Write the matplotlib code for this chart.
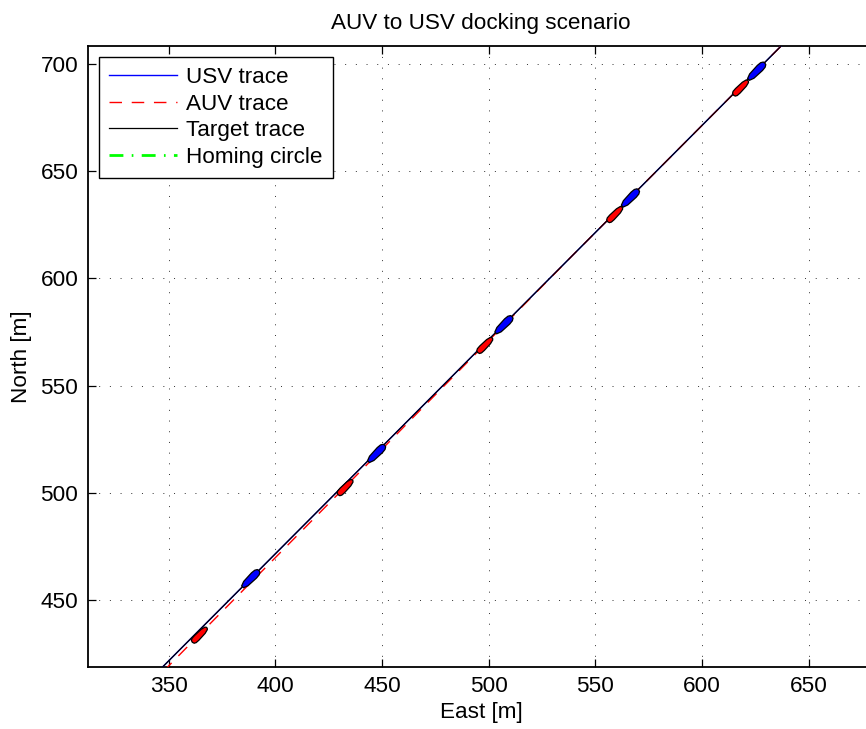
import numpy as np
import matplotlib.pyplot as plt
from matplotlib.patches import Polygon

plt.rcParams['font.family'] = ['Liberation Sans', 'DejaVu Sans']
FS = 16.2

# ---- traces (East / North, metres) ----
target_east = [340.0, 640.0]
target_north = [411.4, 711.4]
usv_east = [340.0, 640.0]
usv_north = [411.4, 711.4]
auv_east = [340.0, 365.0, 400.0, 433.0, 470.0, 500.0, 540.0, 640.0]
auv_north = [408.9, 434.3, 469.6, 502.9, 540.6, 570.9, 611.4, 711.4]

# ---- vessel snapshots along the run ----
usv_snap_east = [388.5, 447.5, 507.2, 566.5, 625.7]
usv_snap_north = [459.8, 518.3, 578.4, 637.6, 696.8]
auv_snap_east = [364.5, 432.8, 498.3, 559.2, 618.2]
auv_snap_north = [433.5, 502.4, 568.8, 629.9, 689.0]

x_ticks = [350, 400, 450, 500, 550, 600, 650]
y_ticks = [450, 500, 550, 600, 650, 700]

# hull outlines, unit length along x, unit beam along y
USV_HULL = np.array([[-0.50, -0.18], [-0.50, 0.18], [-0.30, 0.42], [0.20, 0.50],
                     [0.38, 0.44], [0.48, 0.25], [0.50, 0.0], [0.48, -0.25],
                     [0.38, -0.44], [0.20, -0.50], [-0.30, -0.42]])
AUV_HULL = np.array([[-0.50, 0.0], [-0.47, 0.30], [-0.38, 0.46], [-0.20, 0.50],
                     [0.25, 0.44], [0.45, 0.28], [0.50, 0.10], [0.50, -0.10],
                     [0.45, -0.28], [0.25, -0.44], [-0.20, -0.50], [-0.38, -0.46],
                     [-0.47, -0.30]])


def draw_vessels(ax, east, north, hull, length, beam, color):
    east = np.asarray(east)
    north = np.asarray(north)
    # heading from consecutive snapshots
    hdg = np.arctan2(np.diff(north), np.diff(east))
    hdg = np.append(hdg, hdg[-1])
    for e, n, h in zip(east, north, hdg):
        pts = hull * [length, beam]
        rot = np.array([[np.cos(h), -np.sin(h)], [np.sin(h), np.cos(h)]])
        pts = pts @ rot.T + [e, n]
        ax.add_patch(Polygon(pts, closed=True, facecolor=color, edgecolor='black',
                             linewidth=0.9, zorder=5))


fig = plt.figure(figsize=(8.66, 7.29), dpi=100)
ax = fig.add_axes([88 / 866, 62.3 / 729, 786 / 866, 621 / 729])

ax.plot(usv_east, usv_north, color='blue', linewidth=1.0, label='USV trace', zorder=3)
ax.plot(auv_east, auv_north, color='red', linewidth=1.0, dashes=(9, 7),
        label='AUV trace', zorder=3)
ax.plot(target_east, target_north, color='black', linewidth=0.9,
        label='Target trace', zorder=4)
ax.plot([], [], color=(0, 1, 0), linewidth=2.0, dashes=(5, 3, 0.6, 3),
        label='Homing circle')

draw_vessels(ax, usv_snap_east, usv_snap_north, USV_HULL, 10.8, 3.4, 'blue')
draw_vessels(ax, auv_snap_east, auv_snap_north, AUV_HULL, 9.6, 3.0, 'red')

ax.set_xlim(312.2, 680.7)
ax.set_ylim(418.7, 708.7)
ax.set_xticks(x_ticks)
ax.set_yticks(y_ticks)
ax.tick_params(direction='in', length=6, width=0.9, top=True, right=True,
               labelsize=FS, pad=7)
ax.grid(True, color='#303030', linewidth=0.7, linestyle=(0, (1, 10)))
ax.set_axisbelow(True)
for s in ax.spines.values():
    s.set_linewidth(1.3)

ax.set_title('AUV to USV docking scenario', fontsize=FS, pad=12)
ax.set_xlabel('East [m]', fontsize=FS, labelpad=3)
ax.set_ylabel('North [m]', fontsize=FS, labelpad=6)

leg = ax.legend(loc='upper left', fontsize=FS, handlelength=3.0, handletextpad=0.4,
                labelspacing=0.25, borderpad=0.45, borderaxespad=0.5,
                fancybox=False, framealpha=1, edgecolor='black')
leg.get_frame().set_linewidth(1.0)

fig.savefig('out.png', dpi=100)
